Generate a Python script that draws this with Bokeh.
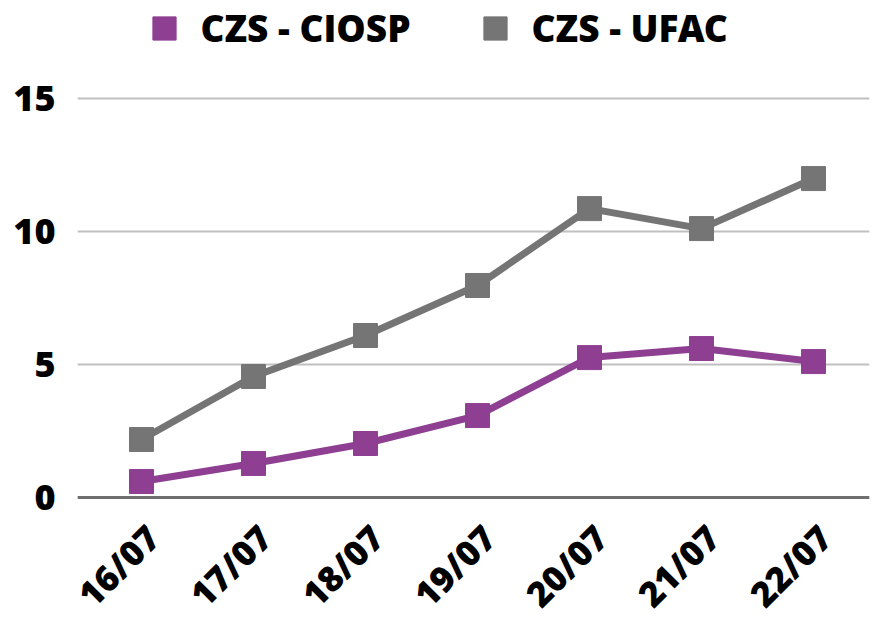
import math
from bokeh.plotting import figure
from bokeh.models import ColumnDataSource, Range1d, FixedTicker, Legend, LegendItem, Span
from bokeh.core.properties import value
from bokeh.embed import file_html
from bokeh.resources import INLINE

dates = ["16/07", "17/07", "18/07", "19/07", "20/07", "21/07", "22/07"]
ciosp = [0.6, 1.28, 2.03, 3.08, 5.26, 5.6, 5.11]
ufac = [2.18, 4.55, 6.09, 7.97, 10.86, 10.11, 11.99]
y_ticks = [0, 5, 10, 15]

PURPLE = "#8e3f92"
GRAY = "#757575"
FONT = "Open Sans ExtraBold"

pos = list(range(len(dates)))  # category index of each date
src = ColumnDataSource(dict(x=pos, date=dates, ciosp=ciosp, ufac=ufac, base=[0] * len(dates)))

# frame covers the whole canvas height: 26.6 px per unit, value 0 sits 120 px above the bottom
p = figure(width=877, height=617, x_range=Range1d(-0.5714, 6.5), y_range=Range1d(-4.511, 18.684),
           output_backend="svg", toolbar_location=None, x_axis_location=None,
           min_border_left=77, min_border_right=8, min_border_top=0, min_border_bottom=0)
p.outline_line_color = None
p.background_fill_color = "white"
p.border_fill_color = "white"

for g in p.grid:
    if g.dimension == 0:
        g.visible = False
    else:
        g.grid_line_color = "#c0c0c0"
        g.grid_line_width = 2
        g.ticker = FixedTicker(ticks=y_ticks)
p.add_layout(Span(location=0, dimension="width", line_color="#6e6e6e", line_width=3))

p.line("x", "ufac", source=src, color=GRAY, line_width=7)
r_u = p.scatter("x", "ufac", source=src, marker="square", size=24, color=GRAY)
p.line("x", "ciosp", source=src, color=PURPLE, line_width=7)
r_c = p.scatter("x", "ciosp", source=src, marker="square", size=24, color=PURPLE)

ax = p.yaxis[0]
ax.ticker = FixedTicker(ticks=y_ticks)
ax.axis_line_color = None
ax.major_tick_line_color = None
ax.minor_tick_line_color = None
ax.major_tick_out = 0
ax.major_tick_in = 0
ax.major_label_standoff = 22
ax.major_label_text_font = FONT
ax.major_label_text_font_style = "normal"
ax.major_label_text_font_size = "36px"
ax.major_label_text_color = "black"

# category labels under the zero line, rotated 45 degrees
p.text("x", "base", text="date", source=src, angle=math.pi / 4,
       x_offset=-23, y_offset=68, text_align="center", text_baseline="middle",
       text_font=value(FONT), text_font_style="normal", text_font_size="35px",
       text_color="black")

legend = Legend(items=[LegendItem(label="CZS - CIOSP", renderers=[r_c]),
                       LegendItem(label="CZS - UFAC", renderers=[r_u])],
                orientation="horizontal", location=(57.5, 560.5),
                glyph_width=58, glyph_height=58, label_standoff=8, spacing=55,
                padding=0, margin=0, border_line_color=None, background_fill_alpha=0,
                label_text_font=FONT, label_text_font_style="normal",
                label_text_font_size="37px", label_text_color="black")
p.add_layout(legend, "center")

with open("out.html", "w") as f:
    f.write(file_html(p, INLINE))
